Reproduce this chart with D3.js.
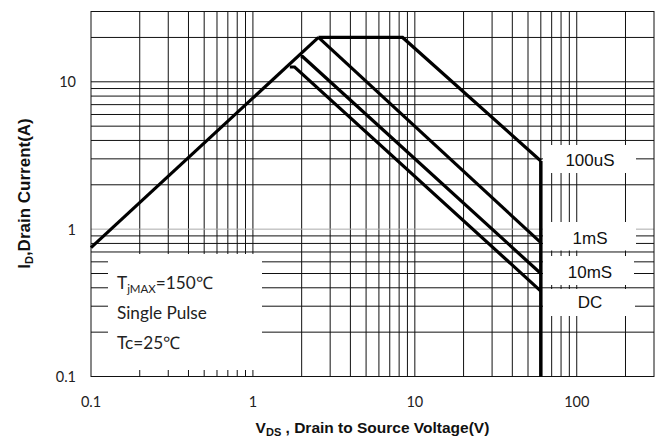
<!DOCTYPE html>
<html>
<head>
<meta charset="utf-8">
<script src="https://cdn.jsdelivr.net/npm/d3@7"></script>
<style>
  html, body { margin: 0; padding: 0; background: #fff; }
  svg { display: block; }
</style>
</head>
<body>
<svg id="chart" width="660" height="441"></svg>
<script>
// ---------- data ----------
const xTickLabels = [0.1, 1, 10, 100];
const yTickLabels = [0.1, 1, 10];
const xGridValues = [0.2,0.3,0.4,0.5,0.6,0.7,0.8,0.9,1,2,3,4,5,6,7,8,9,10,20,30,40,50,60,70,80,90,100,200];
const yGridValues = [0.2,0.3,0.4,0.5,0.6,0.7,0.8,0.9,1,2,3,4,5,6,7,8,9,10,20];
const seriesNames = ["100uS", "1mS", "10mS", "DC"];
const riseLine = [[0.1, 0.75], [2.54, 20]];
const line100us = [[2.54, 20], [8.4, 20], [60, 2.9]];
const line1ms = [[2.54, 20], [60, 0.81]];
const line10ms = [[1.97, 14.8], [2.03, 14.8], [60, 0.50]];
const lineDC = [[1.69, 12.6], [1.81, 12.6], [60, 0.38]];
const vdsLimit = [[60, 2.9], [60, 0.1]];
const noteLines = ["Single Pulse"];

// ---------- layout ----------
const L = 91, R = 654, T = 11.5, B = 376.5;
const svg = d3.select("#chart");
const x = d3.scaleLog().domain([0.1, 300]).range([L, R]);
const y = d3.scaleLog().domain([0.1, 30]).range([B, T]);

const g = svg.append("g");

// grid
g.selectAll(".vg").data(xGridValues).join("line")
  .attr("x1", d => x(d)).attr("x2", d => x(d))
  .attr("y1", T).attr("y2", B)
  .attr("stroke", "#111").attr("stroke-width", 1);
g.selectAll(".hg").data(yGridValues).join("line")
  .attr("x1", L).attr("x2", R)
  .attr("y1", d => y(d)).attr("y2", d => y(d))
  .attr("stroke", d => d === 1 ? "#aaa" : "#111").attr("stroke-width", 1);

// white boxes covering grid behind labels
const boxes = [
  [108, 254, 154, 116],
  [543, 145, 93, 28],
  [543, 222, 93, 28.5],
  [543, 256, 91, 29],
  [543, 289, 92, 27]
];
g.selectAll(".box").data(boxes).join("rect")
  .attr("x", d => d[0]).attr("y", d => d[1])
  .attr("width", d => d[2]).attr("height", d => d[3])
  .attr("fill", "#fff");

// frame
g.append("rect").attr("x", L).attr("y", T).attr("width", R - L).attr("height", B - T)
  .attr("fill", "none").attr("stroke", "#111").attr("stroke-width", 1);

// curves
const line = d3.line().x(d => x(d[0])).y(d => y(d[1]));
[riseLine, line100us, line1ms, line10ms, lineDC].forEach(s => {
  g.append("path").attr("d", line(s)).attr("fill", "none")
    .attr("stroke", "#000").attr("stroke-width", 3.2)
    .attr("stroke-linejoin", "miter");
});
g.append("path").attr("d", line(vdsLimit)).attr("fill", "none")
  .attr("stroke", "#000").attr("stroke-width", 3.5);

// series labels
const labelY = [166, 244, 277.5, 308];
g.selectAll(".slab").data(seriesNames).join("text")
  .attr("x", 590).attr("y", (d, i) => labelY[i])
  .attr("text-anchor", "middle")
  .attr("font-family", "Liberation Sans, Arial, sans-serif")
  .attr("font-size", 17).attr("fill", "#111")
  .text(d => d);

// axis tick labels
const tickFont = "Lato, Carlito, sans-serif";
g.selectAll(".xt").data(xTickLabels).join("text")
  .attr("x", d => x(d)).attr("y", 407)
  .attr("text-anchor", "middle")
  .attr("font-family", tickFont).attr("font-size", 14.5).attr("fill", "#222")
  .text(d => d);
g.selectAll(".yt").data(yTickLabels).join("text")
  .attr("x", 76).attr("y", d => y(d) + 5.5)
  .attr("text-anchor", "end")
  .attr("font-family", tickFont).attr("font-size", 14.5).attr("fill", "#222")
  .text(d => d);

// note text
const note = g.append("g").attr("font-family", tickFont).attr("font-size", 17.2).attr("fill", "#222");
const t1 = note.append("text").attr("x", 117).attr("y", 288.5);
t1.append("tspan").text("T");
t1.append("tspan").attr("font-size", 11.5).attr("dy", 4).text("jMAX");
t1.append("tspan").attr("dy", -4).text("=150℃");
note.append("text").attr("x", 117).attr("y", 318.5).text(noteLines[0]);
note.append("text").attr("x", 117).attr("y", 349).text("Tc=25℃");

// axis titles
const xt = g.append("text").attr("x", 372.5).attr("y", 433)
  .attr("text-anchor", "middle")
  .attr("font-family", "Liberation Sans, Arial, sans-serif")
  .attr("font-weight", "bold").attr("font-size", 15.5).attr("fill", "#111");
xt.append("tspan").text("V");
xt.append("tspan").attr("font-size", 11).attr("dy", 3).text("DS");
xt.append("tspan").attr("dy", -3).text(" , Drain to Source Voltage(V)");

const yt = g.append("text")
  .attr("transform", "translate(30,193.5) rotate(-90)")
  .attr("text-anchor", "middle")
  .attr("font-family", "Liberation Sans, Arial, sans-serif")
  .attr("font-weight", "bold").attr("font-size", 17).attr("fill", "#111");
yt.append("tspan").text("I");
yt.append("tspan").attr("font-size", 11).attr("dy", 3).text("D");
yt.append("tspan").attr("dy", -3).text(",Drain Current(A)");
</script>
</body>
</html>
